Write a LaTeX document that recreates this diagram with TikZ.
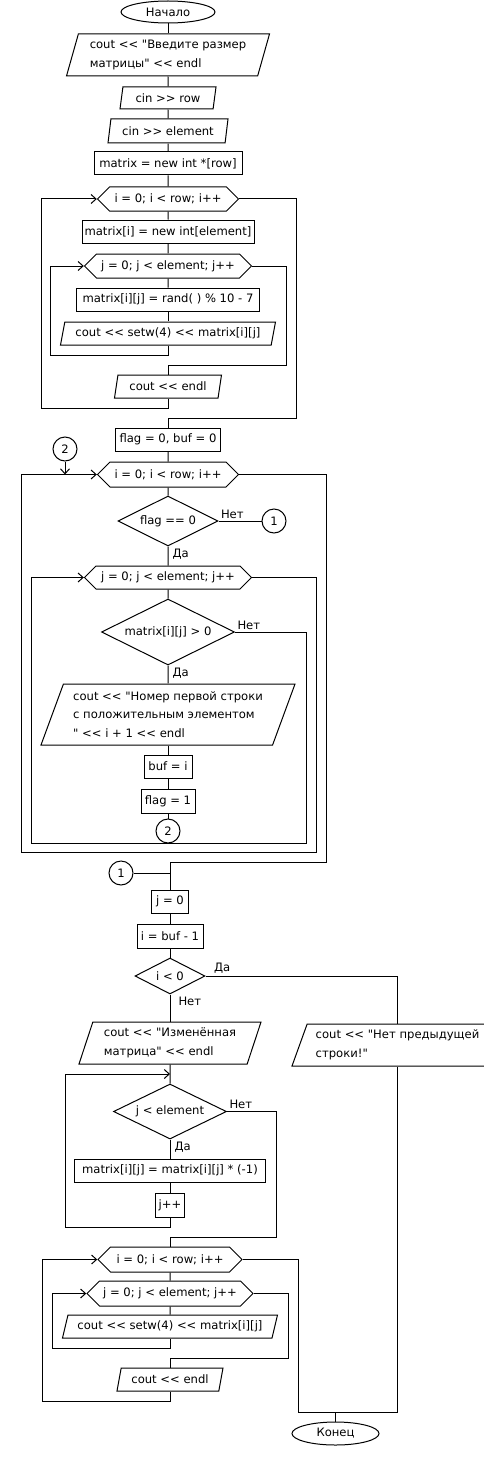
\documentclass[tikz,border=0pt]{standalone}
\usepackage{fontspec}
\setmainfont{DejaVu Sans}[Ligatures=TeXOff]
\usetikzlibrary{shapes.geometric,shapes.symbols,arrows.meta}

\begin{document}
\begin{tikzpicture}[x=1pt,y=-1pt,line width=1pt,
  font=\fontsize{11.6}{18.5}\selectfont,
  >={Straight Barb[length=5pt,width=9pt]},
  box/.style={draw,rectangle,inner sep=0pt,minimum height=23pt},
  io/.style={draw,trapezium,trapezium left angle=#1,trapezium right angle=180-#1,
    trapezium stretches body,inner sep=0pt,minimum height=23pt},
  io/.default=68,
  forloop/.style={draw,signal,signal to=east and west,signal pointer angle=90,
    inner sep=0pt,minimum height=24pt},
  cond/.style={draw,diamond,aspect=2,inner sep=0pt},
  term/.style={draw,ellipse,inner sep=0pt},
  conn/.style={draw,circle,inner sep=0pt,minimum size=24pt},
  lbl/.style={inner sep=2pt}]

\useasboundingbox (0,0) rectangle (483,1458);

\node[term,minimum width=94pt,minimum height=22pt] (start) at (168,12) {Начало};
\node[io=68,minimum width=203pt,minimum height=42pt,align=left] (in1) at (168,55) {cout << "Введите размер\\матрицы" << endl};
\node[io=72,minimum width=96pt,minimum height=22pt] (inRow) at (168,98) {cin >> row};
\node[io=72,minimum width=120pt,minimum height=24pt] (inEl) at (168,131) {cin >> element};
\node[box,minimum width=148pt] (mArr) at (168,163.5) {matrix = new int *[row]};
\node[forloop,minimum width=141pt] (forI1) at (168,199) {i = 0; i < row; i++};
\node[box,minimum width=172pt] (mRow) at (168,231.5) {matrix[i] = new int[element]};
\node[forloop,minimum width=167pt] (forJ1) at (168,266) {j = 0; j < element; j++};
\node[box,minimum width=183pt] (rnd) at (168,299.5) {matrix[i][j] = rand( ) \% 10 - 7};
\node[io=69,minimum width=215pt] (out1) at (168,333.5) {cout << setw(4) << matrix[i][j]};
\node[io=69,minimum width=107pt] (endl1) at (168,386.5) {cout << endl};
\node[box,minimum width=105pt] (init) at (168,439.5) {flag = 0, buf = 0};

\node[conn] (c2a) at (65,449) {2};
\node[forloop,minimum width=141pt,minimum height=25pt] (forI2) at (168,474.5) {i = 0; i < row; i++};
\node[cond,minimum width=100pt,minimum height=50pt] (chk) at (168,521) {flag == 0};
\node[conn] (c1a) at (274,521) {1};
\node[forloop,minimum width=167pt,minimum height=23pt] (forJ2) at (168,577.5) {j = 0; j < element; j++};
\node[cond,minimum width=133pt,minimum height=66pt] (pos) at (168,632) {matrix[i][j] > 0};
\node[io=64,minimum width=254pt,minimum height=61pt,align=left] (out2) at (168,714.5) {cout << "Номер первой строки\\с положительным элементом\\" << i + 1 << endl};
\node[box,minimum width=48pt] (bufi) at (168,766.5) {buf = i};
\node[box,minimum width=54pt,minimum height=24pt] (flg) at (168,801) {flag = 1};
\node[conn] (c2b) at (168,831) {2};

\node[conn] (c1b) at (121,873) {1};
\node[box,minimum width=37pt] (j0) at (170,901.5) {j = 0};
\node[box,minimum width=66pt,minimum height=24pt] (ib) at (170,936) {i = buf - 1};
\node[cond,minimum width=70pt,minimum height=36pt] (neg) at (170,976) {i < 0};
\node[io=65,minimum width=182pt,minimum height=42pt,align=left] (out3) at (170,1043) {cout << "Изменённая\\матрица" << endl};
\node[io=63,minimum width=211pt,minimum height=42pt,align=left] (noprev) at (397.5,1045) {cout << "Нет предыдущей\\строки!"};
\coordinate (wIn) at (170,1074);
\node[cond,minimum width=113pt,minimum height=55pt] (wcond) at (170,1111.5) {j < element};
\node[box,minimum width=191pt] (mneg) at (170,1170.5) {matrix[i][j] = matrix[i][j] * (-1)};
\node[box,minimum width=29pt,minimum height=24pt] (jpp) at (170,1205) {j++};
\node[forloop,minimum width=144pt,minimum height=25pt] (forI3) at (170,1259.5) {i = 0; i < row; i++};
\node[forloop,minimum width=166pt,minimum height=25pt] (forJ3) at (170,1293.5) {j = 0; j < element; j++};
\node[io=64,minimum width=215pt] (out4) at (170,1326.5) {cout << setw(4) << matrix[i][j]};
\node[io=65,minimum width=106pt] (endl3) at (170,1379.5) {cout << endl};
\coordinate (mrg) at (335.5,1412);
\node[term,minimum width=87pt,minimum height=23pt] (stop) at (335.5,1433.5) {Конец};

\node[lbl,anchor=south west] (lNo1) at (chk.east) {Нет};
\node[lbl,anchor=north west,xshift=2pt] (lYes1) at (chk.south) {Да};
\node[lbl,anchor=south west] (lNo2) at (pos.east) {Нет};
\node[lbl,anchor=north west,xshift=2pt] (lYes2) at (pos.south) {Да};
\node[lbl,anchor=south west,xshift=6pt] (lYes3) at (neg.east) {Да};
\node[lbl,anchor=north west,xshift=6pt] (lNo3) at (neg.south) {Нет};
\node[lbl,anchor=south west] (lNo4) at (wcond.east) {Нет};
\node[lbl,anchor=north west,xshift=2pt] (lYes4) at (wcond.south) {Да};

\draw (start) -- (in1);
\draw (in1) -- (inRow);
\draw (inRow) -- (inEl);
\draw (inEl) -- (mArr);
\draw (mArr) -- (forI1);
\draw (forI1) -- (mRow);
\draw (mRow) -- (forJ1);
\draw (forJ1) -- (rnd);
\draw (rnd) -- (out1);
\draw[->] (out1) |- (50,355) |- (forJ1.west);
\draw (forJ1.east) -| (286,365) -| (endl1);
\draw[->] (endl1) |- (41,408) |- (forI1.west);
\draw (forI1.east) -| (296,418) -| (init);

\draw (init) -- (forI2);
\draw[->] (c2a) -- (c2a |- forI2.west);
\draw (forI2) -- (chk);
\draw (chk) -- (c1a);
\draw (chk) -- (forJ2);
\draw (forJ2) -- (pos);
\draw (pos) -- (out2);
\draw (out2) -- (bufi);
\draw (bufi) -- (flg);
\draw (flg) -- (c2b);
\draw[->] (pos.east) -| (306,843) -- (31,843) |- (forJ2.west);
\draw[->] (forJ2.east) -| (316,852) -- (21,852) |- (forI2.west);
\draw (forI2.east) -| (326,862) -| (j0);
\draw (c1b) -- (c1b -| j0);

\draw (j0) -- (ib);
\draw (ib) -- (neg);
\draw (neg) -| (noprev);
\draw (neg) -- (out3);
\draw (out3) -- (wcond);
\draw (wcond) -- (mneg);
\draw (mneg) -- (jpp);
\draw[->] (jpp) |- (65,1227) |- (wIn);
\draw (wcond.east) -| (276,1237) -| (forI3);
\draw (forI3) -- (forJ3);
\draw (forJ3) -- (out4);
\draw[->] (out4) |- (52,1348) |- (forJ3.west);
\draw (forJ3.east) -| (288,1358) -| (endl3);
\draw[->] (endl3) |- (42,1401) |- (forI3.west);
\draw (forI3.east) -| (298,1412) -| (noprev);
\draw (mrg) -- (stop);

\end{tikzpicture}
\end{document}
